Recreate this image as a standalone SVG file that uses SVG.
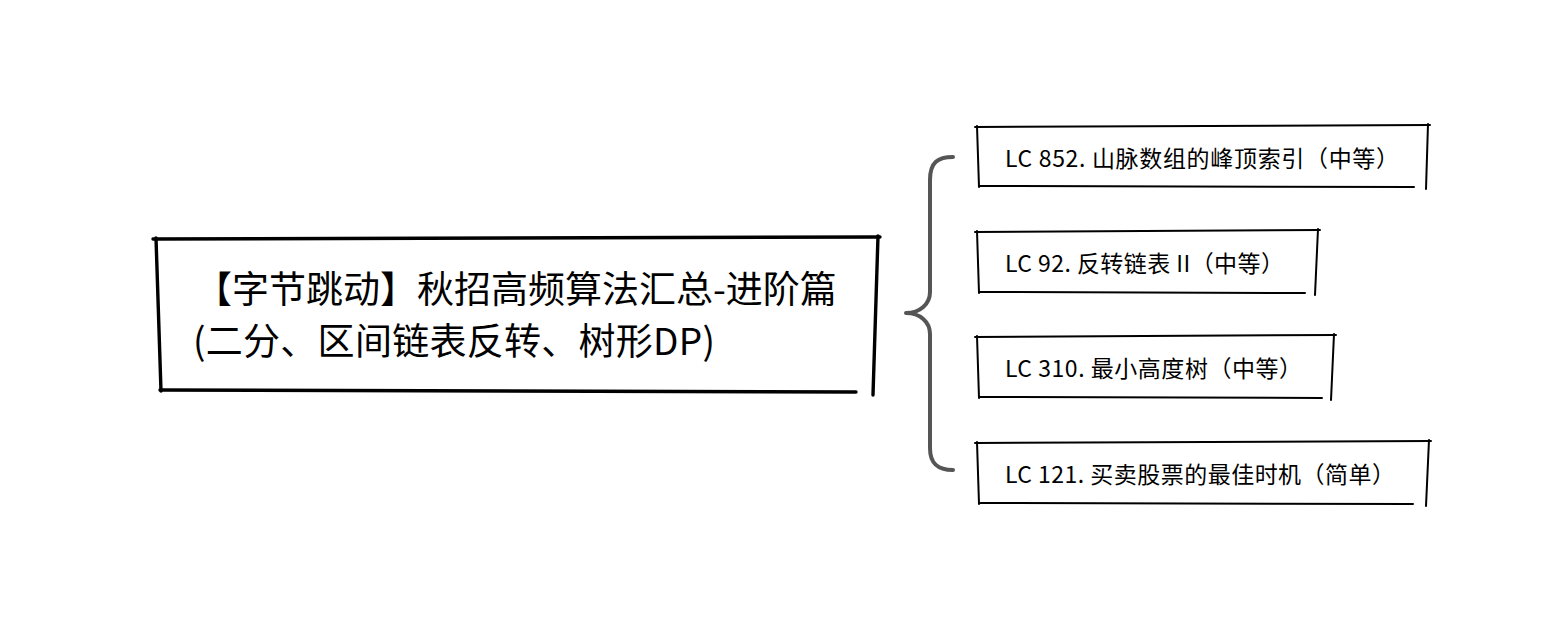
<svg xmlns="http://www.w3.org/2000/svg" width="1541" height="637" viewBox="0 0 1541 637">
<style>
.sk{fill:none;stroke:#000;stroke-width:2;stroke-linecap:round}
.skm{fill:none;stroke:#000;stroke-width:3.4;stroke-linecap:round}
.t{font-family:"Noto Sans CJK SC","Noto Sans",sans-serif;fill:#000}
.tm{font-size:37px}
.tn{font-size:23px}
.br{fill:none;stroke:#555;stroke-width:4;stroke-linecap:round;stroke-linejoin:round}
</style>
<rect x="0" y="0" width="1541" height="637" fill="#fff"/>
<g id="connectors">
<path class="br" d="M953,157 C938,157 930,162 930,180 L930,292 C930,304 920,313 906,313 C920,313 930,322 930,334 L930,448 C930,464 938,470 953,470"/>
</g>
<g id="root">
<path class="skm" d="M153,239 L880,237"/>
<path class="skm" d="M156,238 L161,391"/>
<path class="skm" d="M160,390 L856,392"/>
<path class="skm" d="M878,236 L873,395"/>
<text class="t tm" x="195" y="303">【字节跳动】秋招高频算法汇总-进阶篇</text>
<text class="t tm" x="193" y="355" textLength="522" lengthAdjust="spacing">(二分、区间链表反转、树形DP)</text>
</g>
<g id="n1">
<path class="sk" d="M975,127 L1430,125"/>
<path class="sk" d="M977,126 L979,187"/>
<path class="sk" d="M979,186 L1414,187"/>
<path class="sk" d="M1428,124 L1426,189"/>
<text class="t tn" x="1005" y="167" textLength="394" lengthAdjust="spacing">LC 852. 山脉数组的峰顶索引（中等）</text>
</g>
<g id="n2">
<path class="sk" d="M975,232 L1320,230"/>
<path class="sk" d="M977,231 L979,293"/>
<path class="sk" d="M979,292 L1305,293"/>
<path class="sk" d="M1318,229 L1315,295"/>
<text class="t tn" x="1005" y="272" textLength="279" lengthAdjust="spacing">LC 92. 反转链表 II（中等）</text>
</g>
<g id="n3">
<path class="sk" d="M975,337 L1336,335"/>
<path class="sk" d="M977,336 L979,398"/>
<path class="sk" d="M979,397 L1322,398"/>
<path class="sk" d="M1334,334 L1331,400"/>
<text class="t tn" x="1005" y="377" textLength="297" lengthAdjust="spacing">LC 310. 最小高度树（中等）</text>
</g>
<g id="n4">
<path class="sk" d="M975,443 L1431,441"/>
<path class="sk" d="M977,442 L979,504"/>
<path class="sk" d="M979,503 L1413,504"/>
<path class="sk" d="M1429,440 L1426,506"/>
<text class="t tn" x="1005" y="483" textLength="390" lengthAdjust="spacing">LC 121. 买卖股票的最佳时机（简单）</text>
</g>
</svg>
